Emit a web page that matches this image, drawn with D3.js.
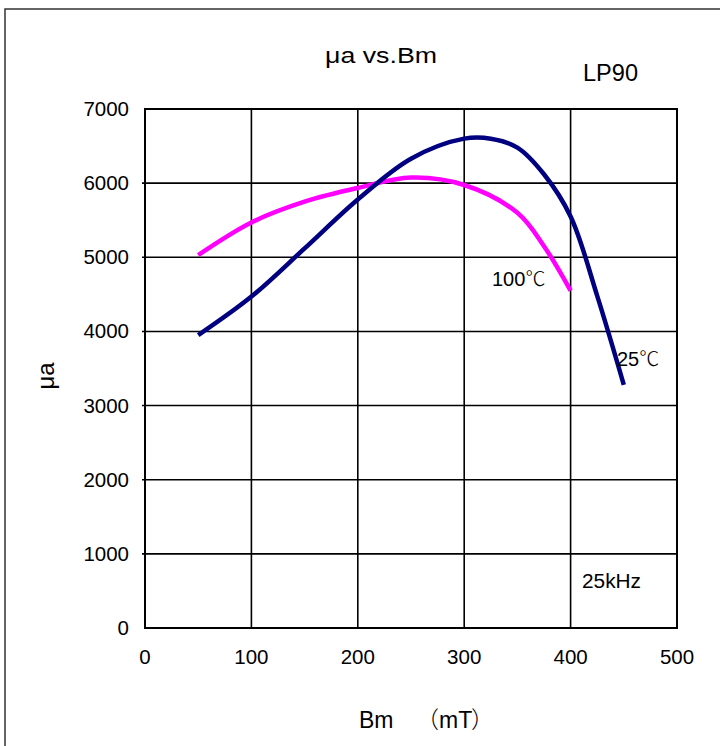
<!DOCTYPE html>
<html lang="en">
<head>
  <meta charset="UTF-8">
  <title>μa vs.Bm</title>
  <style>
    body { margin: 0; background: #fff; }
    text { font-family: Arial, "Liberation Sans", "DejaVu Sans", sans-serif; fill: #000; }
    line.grid { stroke: #000; stroke-width: 1.6; }
    rect.plot { fill: none; stroke: #000; stroke-width: 2; }
    path.curve { fill: none; stroke-width: 4.5; stroke-linecap: butt; }
    tspan.cjk { font-family: "Noto Sans CJK SC", sans-serif; font-weight: 300; }
  </style>
</head>
<body>
<div id="plot"></div>
<script src="https://cdnjs.cloudflare.com/ajax/libs/d3/7.8.5/d3.min.js"></script>
<script>
// Bm (mT) sample points
var bm25 = [50, 100, 150, 200, 250, 300, 325, 350, 375, 400, 425, 450];
var mu25 = [3950, 4470, 5120, 5780, 6330, 6600, 6600, 6480, 6120, 5550, 4480, 3280];
var bm100 = [50, 100, 150, 200, 250, 300, 350, 375, 400];
var mu100 = [5030, 5470, 5750, 5935, 6075, 5975, 5600, 5150, 4550];
var xTicks = [0, 100, 200, 300, 400, 500];
var yTicks = [0, 1000, 2000, 3000, 4000, 5000, 6000, 7000];

(function() {
  var W = 720, H = 746;
  var svg = d3.select('#plot').append('svg')
    .attr('width', W)
    .attr('height', H);

  // outer frame (runs off the right and bottom edges)
  svg.append('rect')
    .attr('x', 5).attr('y', 9)
    .attr('width', W + 10).attr('height', H + 10)
    .attr('fill', 'none')
    .attr('stroke', '#333')
    .attr('stroke-width', 1.5);

  var x = d3.scaleLinear().domain([0, 500]).range([145, 677]);
  var y = d3.scaleLinear().domain([0, 7000]).range([628, 109]);

  // grid
  xTicks.slice(1, -1).forEach(function(v) {
    svg.append('line').classed('grid', true)
      .attr('x1', x(v)).attr('x2', x(v))
      .attr('y1', y(0)).attr('y2', y(7000));
  });
  yTicks.slice(1, -1).forEach(function(v) {
    svg.append('line').classed('grid', true)
      .attr('x1', x(0) - 3).attr('x2', x(500))
      .attr('y1', y(v)).attr('y2', y(v));
  });
  svg.append('rect').classed('plot', true)
    .attr('x', x(0)).attr('y', y(7000))
    .attr('width', x(500) - x(0)).attr('height', y(0) - y(7000));

  // tick labels
  yTicks.forEach(function(v) {
    svg.append('text')
      .attr('x', 129).attr('y', y(v) + 7)
      .attr('text-anchor', 'end')
      .attr('font-size', 20.5)
      .text(v);
  });
  xTicks.forEach(function(v) {
    svg.append('text')
      .attr('x', x(v)).attr('y', 664)
      .attr('text-anchor', 'middle')
      .attr('font-size', 20.5)
      .text(v);
  });

  // curves
  var line = d3.line()
    .x(function(d) { return x(d[0]); })
    .y(function(d) { return y(d[1]); })
    .curve(d3.curveCatmullRom.alpha(0.5));

  svg.append('path').classed('curve', true)
    .attr('stroke', '#ff00ff')
    .attr('d', line(d3.zip(bm100, mu100)));
  svg.append('path').classed('curve', true)
    .attr('stroke', '#000080')
    .attr('d', line(d3.zip(bm25, mu25)));

  // titles and notes
  svg.append('text').attr('x', 325).attr('y', 63)
    .attr('font-size', 22)
    .attr('textLength', 112).attr('lengthAdjust', 'spacingAndGlyphs')
    .text('μa vs.Bm');
  svg.append('text').attr('x', 583).attr('y', 81)
    .attr('font-size', 24)
    .attr('textLength', 55).attr('lengthAdjust', 'spacingAndGlyphs')
    .text('LP90');

  var t100 = svg.append('text').attr('x', 492).attr('y', 286)
    .attr('font-size', 20);
  t100.append('tspan').text('100');
  t100.append('tspan').classed('cjk', true).text('℃');
  var t25 = svg.append('text').attr('x', 617).attr('y', 366)
    .attr('font-size', 20);
  t25.append('tspan').text('25');
  t25.append('tspan').classed('cjk', true).text('℃');

  svg.append('text').attr('x', 582).attr('y', 588)
    .attr('font-size', 20)
    .attr('textLength', 59).attr('lengthAdjust', 'spacingAndGlyphs')
    .text('25kHz');

  // x axis title, pieces placed to follow the wide CJK brackets
  var xl = svg.append('text').attr('y', 728).attr('font-size', 23);
  xl.append('tspan').attr('x', 359).text('Bm');
  xl.append('tspan').attr('x', 416).classed('cjk', true).text('（');
  xl.append('tspan').attr('x', 439).text('mT');
  xl.append('tspan').attr('x', 471).classed('cjk', true).text('）');

  svg.append('text')
    .attr('transform', 'translate(54,376) rotate(-90)')
    .attr('text-anchor', 'middle').attr('font-size', 24)
    .text('μa');
})();
</script>
</body>
</html>
